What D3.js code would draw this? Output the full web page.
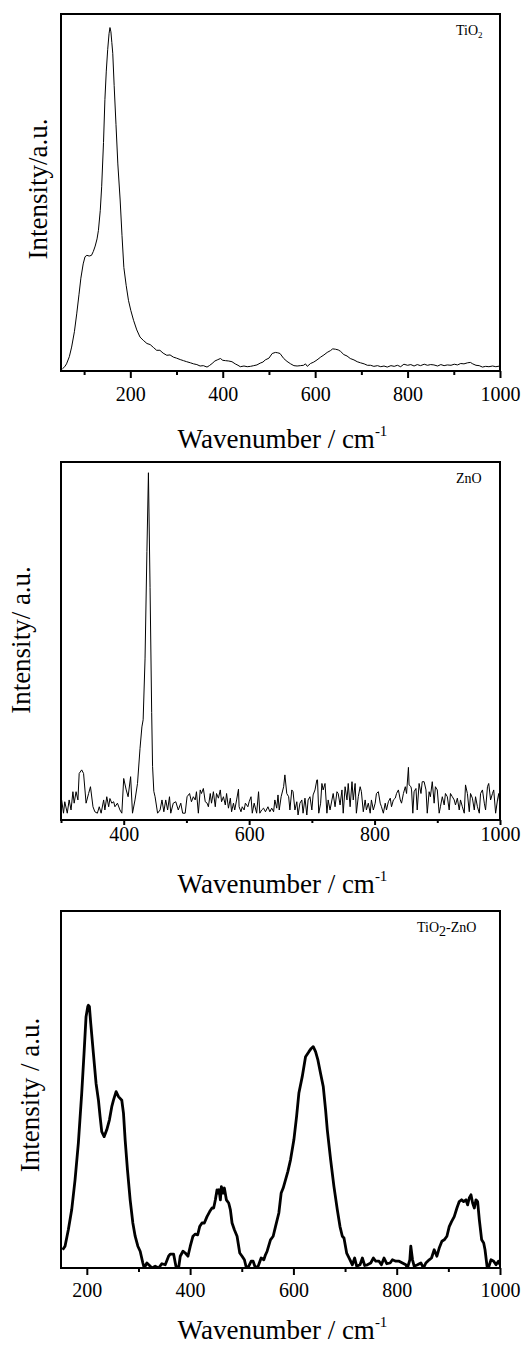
<!DOCTYPE html>
<html><head><meta charset="utf-8">
<script src="https://cdn.jsdelivr.net/npm/d3@7"></script>
<style>body{margin:0;background:#fff}svg{display:block}</style>
</head><body>
<svg id="chart" width="523" height="1346"></svg>
<script>
// ---- data: [wavenumber (cm-1), intensity (a.u., 0-100 of frame)] ----
const tio2Spectrum = [[53,0.6],[58,1.2],[62,2],[68,4],[73,6.7],[79,11],[84,16],[89,21.5],[93,26],[98,30],[102,32],[106,32.4],[111,32.2],[116,32.4],[120,33.5],[124,35],[128,37],[131,39.4],[135,45],[138,51.6],[142,64],[145,76],[148,84],[151,90],[154,94.5],[156,96.2],[158,95],[160,92],[162,89],[165,80],[169,69],[173,58],[178,47.9],[182,38],[186,29],[191,24],[196,19.8],[201,17],[207,14.2],[214,11.5],[221,9.5],[228,8.6],[236,7.7],[243,7.4],[250,6.6],[257,5.8],[264,5.8],[271,5.0],[279,4.4],[286,4.5],[293,3.9],[300,3.6],[308,3.2],[315,2.9],[322,2.6],[330,2.3],[337,2.0],[344,1.8],[351,1.4],[358,1.5],[366,1.1],[371,1.5],[377,2.1],[383,2.8],[388,3.1],[395,3.5],[400,3.0],[406,2.9],[413,2.8],[420,2.6],[427,2.0],[433,1.6],[438,1.2],[446,1.4],[453,1.2],[460,1.3],[467,1.5],[474,1.7],[481,2.2],[487,2.5],[492,3.1],[500,3.6],[507,4.9],[514,5.2],[519,5.1],[524,4.9],[528,4.2],[532,3.5],[539,2.7],[547,2.0],[554,1.5],[561,1.4],[568,1.5],[575,1.6],[579,2.0],[583,1.3],[590,2.1],[597,2.5],[604,3.1],[612,3.9],[619,4.5],[626,5.2],[633,5.7],[638,6.2],[644,6.1],[650,5.9],[655,5.5],[662,4.6],[669,4.2],[676,3.5],[684,3.1],[691,2.6],[698,2.3],[706,2.0],[713,1.6],[720,1.6],[727,1.3],[735,1.5],[742,1.2],[749,1.4],[756,1.1],[764,1.5],[771,1.3],[778,1.6],[785,1.2],[792,1.9],[800,1.6],[807,1.8],[814,1.4],[821,1.8],[828,1.5],[836,1.9],[843,1.6],[850,1.8],[857,1.7],[865,1.4],[872,1.8],[879,1.5],[886,1.7],[894,1.6],[901,1.9],[908,1.7],[915,2.1],[922,2.0],[930,2.3],[936,2.4],[941,2.0],[948,1.6],[955,1.5],[962,1.1],[969,1.3],[976,1.2],[984,1.4],[991,1.2],[1000,1.4]];

const znoSpectrum = [[301,5.6],[304,1.9],[306,5.1],[310,1.9],[313,5.6],[316,2.8],[319,7.9],[321,4.7],[324,7.9],[327,5.6],[329,13],[333,14],[336,13],[340,4.7],[344,7.4],[347,9.3],[351,3.7],[354,2.3],[358,1.9],[361,3.7],[364,1.9],[368,5.6],[370,2.8],[373,6.5],[376,3.7],[378,6],[381,4.7],[384,5.1],[386,3.7],[390,4.7],[394,2.8],[397,1.9],[400,11.6],[404,8.4],[407,6.5],[411,12.1],[414,1.9],[418,5.6],[422,10.2],[426,20],[429,26],[431,28],[434,45],[437,75],[439.4,97],[442,65],[444.6,30],[446,15],[448,8],[450,6.5],[454,1.9],[458,2.8],[461,5.6],[464,2.3],[467,5.6],[470,2.8],[473,6.5],[475,1.9],[479,4.7],[483,5.1],[487,2.8],[491,4.7],[494,1.9],[498,1.9],[501,6.5],[505,7.4],[508,5.1],[511,6.5],[514,5.6],[516,7.9],[519,1.9],[522,8.4],[524,7.4],[527,8.8],[530,5.1],[533,4.7],[535,3.7],[538,7.4],[540,4.7],[543,7.9],[546,3.7],[548,7.4],[551,6.1],[554,8.4],[556,5.1],[559,6.5],[562,4.2],[564,7.4],[567,3.3],[570,6.1],[572,2.3],[575,4.7],[577,2.8],[580,5.6],[583,8.6],[584,3.7],[587,2.3],[589,3.7],[592,2.8],[594,4.7],[598,3.7],[600,5.1],[603,6.5],[605,1.9],[608,4.7],[612,1.9],[615,7.9],[617,1.9],[620,2.8],[623,3.3],[626,2.3],[630,3.7],[633,2.3],[636,3.3],[639,2.3],[641,5.6],[644,3.3],[646,7.0],[648,2.8],[651,6.5],[655,9.3],[657,12.6],[660,7.4],[663,6.5],[665,2.8],[668,8.4],[670,7.9],[673,2.8],[676,5.1],[678,1.4],[681,4.7],[684,5.6],[686,1.9],[689,6.1],[692,1.4],[694,5.6],[697,6.5],[700,2.8],[702,7.0],[705,8.4],[708,11.2],[709,11.2],[711,1.9],[714,4.7],[716,10.2],[718,8.4],[721,10.2],[724,1.9],[726,5.6],[729,2.8],[732,5.6],[734,7.4],[737,3.7],[740,7.9],[742,7.4],[745,4.2],[748,8.4],[750,1.9],[753,9.3],[756,5.6],[758,10.2],[761,3.7],[764,10.7],[766,5.6],[769,10.2],[771,1.9],[774,6.5],[777,9.3],[779,7.9],[782,2.3],[785,5.6],[787,2.8],[790,4.7],[793,1.9],[795,5.6],[798,2.8],[801,4.7],[803,7.4],[806,7.9],[809,4.7],[811,3.7],[814,1.9],[817,4.7],[819,2.8],[822,5.1],[825,6.1],[827,3.7],[830,5.6],[833,6.1],[835,7.4],[838,8.4],[841,5.6],[843,4.7],[846,7.4],[849,9.3],[851,7.4],[854,14.7],[855,9.8],[858,9.3],[859,8.4],[861,1.9],[863,7.9],[866,8.8],[868,2.8],[871,10.2],[874,7.4],[876,10.7],[879,10.7],[882,8.4],[884,1.9],[887,7.9],[889,6.5],[892,10.7],[895,4.7],[897,9.3],[900,8.4],[903,1.9],[905,3.7],[908,6.5],[911,4.2],[913,7.4],[916,6.5],[919,2.8],[921,7.4],[924,6.5],[927,5.6],[929,4.2],[932,6.1],[935,2.8],[937,5.6],[940,3.7],[943,1.9],[945,9.8],[948,7.4],[951,2.3],[953,7.4],[956,6.1],[959,2.8],[961,6.5],[964,3.7],[967,1.9],[969,7.4],[972,8.4],[975,4.7],[977,2.8],[980,9.3],[982,10.2],[985,5.6],[988,7.4],[990,8.4],[993,1.9],[996,5.6],[998,7.4],[1000,3.7]];

const tio2znoSpectrum = [[153.2,5.1],[157.8,6.1],[164.2,10.7],[170.7,16.3],[177.2,24.7],[183.6,35.0],[190.1,48.9],[194.6,60.1],[198.5,70.4],[201.8,73.2],[203.0,73.6],[205.0,73.2],[207.6,68.5],[212.7,60.1],[217.9,51.7],[222.5,47.0],[225.7,42.4],[228.9,38.2],[233.5,36.8],[238.6,38.7],[243.8,41.5],[248.3,45.2],[251.6,47.0],[256.7,49.4],[261.3,48.0],[267.7,47.0],[271.0,43.3],[274.2,35.9],[278.7,27.5],[283.9,19.1],[289.1,12.6],[293.6,8.9],[298.8,6.1],[303.3,4.7],[308.5,1.4],[311.1,0],[316.3,1.4],[321.4,0.7],[326.0,0],[332.4,0.5],[338.9,0],[345.4,1.2],[351.8,0.9],[358.3,3.3],[361.5,3.9],[368.0,3.9],[372.5,0.5],[377.7,0],[380.9,3.3],[386.1,4.7],[390.6,4.2],[395.8,3.3],[400.3,6.1],[405.5,8.9],[410.1,9.5],[414.6,9.3],[418.5,11.6],[423.0,12.6],[427.5,12.6],[432.7,14.4],[437.9,15.8],[442.4,16.8],[445.6,16.8],[448.9,19.1],[452.1,21.9],[453.4,21.0],[456.0,21.9],[458.6,19.1],[460.5,22.8],[463.8,21.0],[466.3,22.4],[470.2,19.1],[474.7,18.2],[478.0,16.3],[481.2,12.6],[485.7,10.7],[490.9,8.9],[496.1,4.2],[500.6,3.3],[505.1,2.3],[509.0,0],[513.6,0.5],[518.1,1.9],[522.0,1.9],[526.5,0],[531.7,0.5],[537.5,2.8],[542.7,2.3],[545.9,3.7],[549.1,4.7],[555.6,7.9],[560.8,8.9],[565.3,11.6],[571.8,15.4],[576.3,21.0],[580.2,22.4],[584.7,24.7],[589.2,27.0],[594.4,30.3],[600.9,35.9],[606.1,42.4],[610.6,49.0],[617.1,53.6],[623.5,59.2],[630.0,60.6],[634.5,61.5],[638.4,62.0],[642.9,60.6],[647.5,58.2],[652.6,54.5],[657.8,50.8],[662.3,44.3],[665.6,38.7],[672.1,30.3],[678.5,22.8],[685.0,16.3],[690.2,11.6],[694.7,8.9],[697.9,8.4],[703.1,4.2],[709.6,2.3],[714.1,0.9],[718.6,2.8],[722.5,0.5],[729.0,0.9],[733.5,2.8],[738.0,0.7],[743.2,0.9],[749.7,1.4],[754.9,2.8],[759.4,1.9],[765.8,1.9],[770.4,0.9],[775.5,2.8],[780.7,1.2],[787.2,1.4],[791.7,2.3],[798.2,1.9],[804.7,1.9],[811.1,1.4],[817.6,0.9],[820.8,0],[825.4,2.3],[827.3,6.1],[830.6,2.3],[833.8,0.5],[840.3,0.9],[846.8,1.4],[851.9,0],[856.4,1.4],[862.9,2.3],[867.4,2.8],[872.6,5.1],[877.8,3.3],[882.3,5.6],[887.5,7.5],[892.0,7.9],[897.2,8.9],[901.7,11.6],[906.2,13.0],[911.4,14.4],[916.6,16.8],[921.1,18.6],[925.6,19.1],[929.5,18.6],[934.1,19.1],[937.3,17.7],[940.5,19.6],[943.8,20.5],[947.0,18.2],[950.3,16.8],[953.5,19.1],[956.7,18.6],[960.0,13.5],[964.5,7.9],[968.4,7.0],[971.0,5.1],[974.9,0.5],[977.5,0],[982.6,2.3],[987.8,1.9],[992.3,0.9],[996.9,1.9],[1000,0.9]];

const majorTicks1 = [200,400,600,800,1000];
const minorTicks1 = [100,300,500,700,900];
const majorTicks2 = [400,600,800,1000];
const minorTicks2 = [300,500,700,900];
const majorTicks3 = [200,400,600,800,1000];
const minorTicks3 = [300,500,700,900];

const sampleLabels = ["TiO", "ZnO", "TiO"];
const yTitles = ["Intensity/a.u.", "Intensity/ a.u.", "Intensity / a.u."];
const xTitle = "Wavenumber / cm";

// ---- layout ----
const panels = [
  {data: tio2Spectrum, domain:[50,1000], top:14, bottom:371, major:majorTicks1, minor:minorTicks1,
   lw:1, tickLen:7, minorLen:4, pad:9, xTitleY:448, yTitleX:47, yTitleY:189},
  {data: znoSpectrum, domain:[300,1000], top:462, bottom:820, major:majorTicks2, minor:minorTicks2,
   lw:1, tickLen:5, minorLen:3, pad:2, xTitleY:893, yTitleX:30, yTitleY:640},
  {data: tio2znoSpectrum, domain:[150,1000], top:911, bottom:1268, major:majorTicks3, minor:minorTicks3,
   lw:2.8, tickLen:7, minorLen:4, pad:8, xTitleY:1339, yTitleX:39, yTitleY:1095}
];
const left = 61, right = 500;
const serif = "'Liberation Serif','Times New Roman',serif";

const svg = d3.select("#chart");

panels.forEach((p, i) => {
  const x = d3.scaleLinear().domain(p.domain).range([left, right]);
  const y = d3.scaleLinear().domain([0, 100]).range([p.bottom, p.top]);
  const g = svg.append("g");

  const clipId = "clip" + i;
  g.append("clipPath").attr("id", clipId).append("rect")
    .attr("x", left).attr("y", p.top).attr("width", right-left).attr("height", p.bottom-p.top);

  g.append("path").datum(p.data)
    .attr("clip-path", `url(#${clipId})`)
    .attr("fill", "none").attr("stroke", "#000").attr("stroke-width", p.lw)
    .attr("stroke-linejoin", "round")
    .attr("d", d3.line().x(d => x(d[0])).y(d => y(d[1])));

  const minorAxis = g.append("g").attr("transform", `translate(0,${p.bottom})`)
    .call(d3.axisBottom(x).tickValues(p.minor).tickSize(p.minorLen).tickFormat(""));
  minorAxis.select(".domain").remove();
  minorAxis.selectAll("line").attr("stroke-width", 2);

  const majorAxis = g.append("g").attr("transform", `translate(0,${p.bottom})`)
    .call(d3.axisBottom(x).tickValues(p.major).tickSize(p.tickLen).tickPadding(p.pad).tickFormat(d3.format("d")));
  majorAxis.select(".domain").remove();
  majorAxis.selectAll("line").attr("stroke-width", 2);
  majorAxis.selectAll("text").attr("font-family", serif).attr("font-size", 20).attr("fill", "#000");

  g.append("rect").attr("x", left).attr("y", p.top).attr("width", right-left).attr("height", p.bottom-p.top)
    .attr("fill", "none").attr("stroke", "#000").attr("stroke-width", 2);

  const xt = g.append("text").attr("x", (left+right)/2 + 2).attr("y", p.xTitleY)
    .attr("text-anchor", "middle").attr("font-family", serif).attr("font-size", 27).attr("fill", "#000");
  xt.append("tspan").text(xTitle);
  xt.append("tspan").attr("font-size", 15).attr("dy", -12).text("-1");

  g.append("text").attr("transform", `translate(${p.yTitleX},${p.yTitleY}) rotate(-90)`)
    .attr("text-anchor", "middle").attr("font-family", serif).attr("font-size", 27).attr("fill", "#000")
    .text(yTitles[i]);
});

const s0 = svg.append("text").attr("x", 456).attr("y", 35).attr("font-family", serif).attr("font-size", 14).attr("fill", "#000");
s0.append("tspan").text(sampleLabels[0]);
s0.append("tspan").attr("font-size", 9).attr("dy", 3).text("2");

svg.append("text").attr("x", 456).attr("y", 483).attr("font-family", serif).attr("font-size", 14).attr("fill", "#000")
  .text(sampleLabels[1]);

const s2 = svg.append("text").attr("x", 417).attr("y", 932).attr("font-family", serif).attr("font-size", 14).attr("fill", "#000");
s2.append("tspan").text(sampleLabels[2]);
s2.append("tspan").attr("font-size", 14).attr("dy", 4).text("2");
s2.append("tspan").attr("dy", -4).text("-ZnO");
</script>
</body></html>
